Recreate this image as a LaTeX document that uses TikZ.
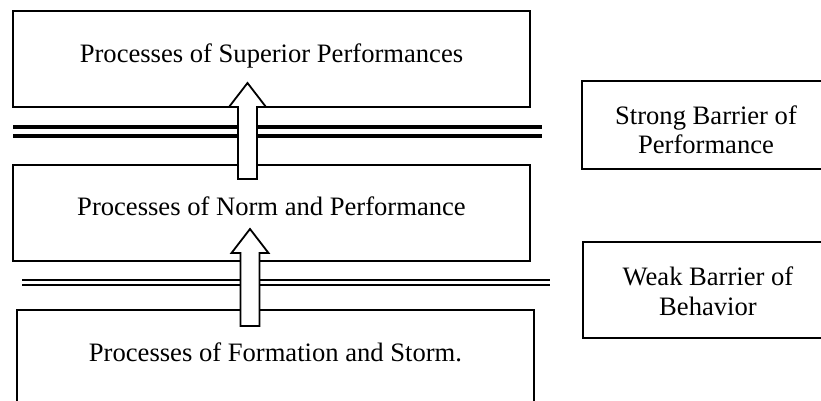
\documentclass[tikz,border=0pt]{standalone}
\usepackage{fontspec}
\setmainfont{Liberation Serif}
\usetikzlibrary{positioning}

% hollow block arrow pointing up: {x}{tail y}{head base y}{tip y}
\newcommand{\upblock}[4]{%
\draw[fatarrow] (#1-9.5,#2) -- (#1-9.5,#3) -- (#1-18.5,#3) -- (#1,#4)
  -- (#1+18.5,#3) -- (#1+9.5,#3) -- (#1+9.5,#2) -- cycle;}

\begin{document}
\begin{tikzpicture}[x=0.5pt,y=-0.5pt,
  procbox/.style={draw, line width=0.9pt, inner sep=0pt},
  boxtext/.style={anchor=base, inner sep=0pt, align=center,
    font=\fontsize{13.3}{14.5}\selectfont},
  fatarrow/.style={draw, fill=white, line width=0.9pt, line join=miter}]
\useasboundingbox (0,0) rectangle (821,401);

% process boxes
\node[procbox, minimum width=258.5pt, minimum height=48pt] (superior) at (271.5,59) {};
\node[procbox, minimum width=258.5pt, minimum height=48pt] (norm) at (271.5,213) {};
\node[procbox, minimum width=258.5pt, minimum height=50pt] (formation) at (275.5,360) {};
\node[boxtext] (superior text) at (271.5,63) {Processes of Superior Performances};
\node[boxtext] (norm text) at (271.5,216) {Processes of Norm and Performance};
\node[boxtext] (formation text) at (275.5,362) {Processes of Formation and Storm.};

% barrier boxes
\node[procbox, minimum width=129pt, minimum height=44pt] (strong) at (711,125) {};
\node[procbox, minimum width=128.5pt, minimum height=48pt] (weak) at (711.5,290) {};
\node[boxtext] (strong text) at (706,154) {Strong Barrier of\\Performance};
\node[boxtext] (weak text) at (708,315) {Weak Barrier of\\Behavior};

% barriers
\draw[line width=2pt] (13,127) -- (542,127);
\draw[line width=2pt] (13,136) -- (542,136);
\draw[line width=0.8pt] (22,280) -- (550,280);
\draw[line width=0.8pt] (22,285) -- (550,285);

% arrows
\upblock{247.5}{179}{107}{83}
\upblock{250}{326}{253}{229}
\end{tikzpicture}
\end{document}
